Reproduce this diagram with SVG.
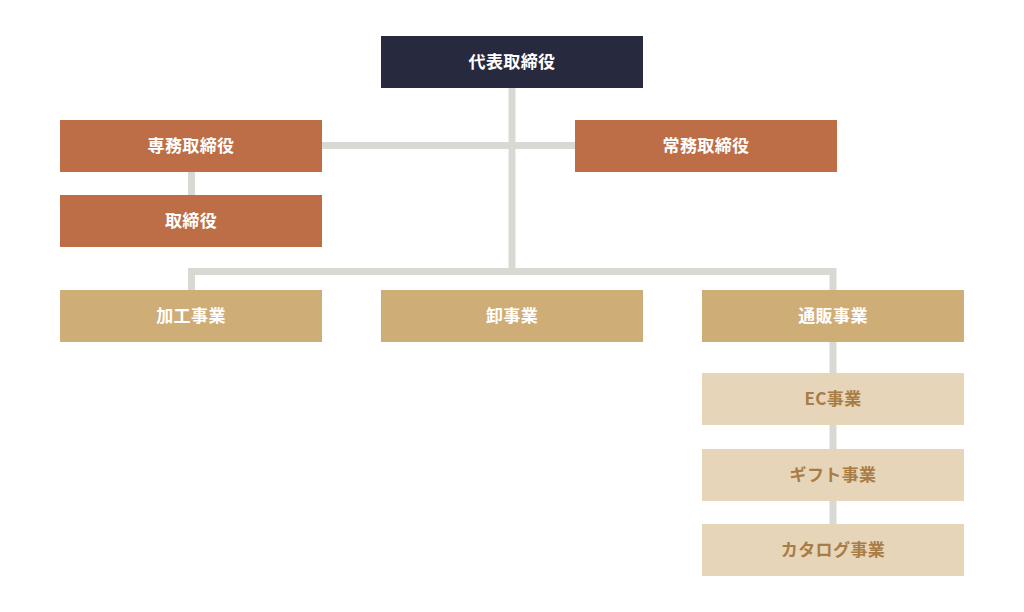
<svg xmlns="http://www.w3.org/2000/svg" width="1024" height="612" viewBox="0 0 1024 612">
<style>
.ln{stroke:#d9d9d3;stroke-width:7;fill:none}
text{font-family:"Noto Sans CJK JP","Noto Sans",sans-serif;font-size:17px;font-weight:700;text-anchor:middle;dominant-baseline:central;letter-spacing:0.4px}
.w{fill:#ffffff}
.b{fill:#a97c45}
.navy{fill:#272a3f}
.org{fill:#bd6e47}
.tan{fill:#cfad76}
.lt{fill:#e6d5b8}
</style>
<rect width="1024" height="612" fill="#ffffff"/>
<g id="connectors">
<path class="ln" d="M512 88V271"/>
<path class="ln" d="M322 145.5H575"/>
<path class="ln" d="M191.5 172V195"/>
<path class="ln" d="M191.5 290V271.5H833V290"/>
<path class="ln" d="M833 342V524"/>
</g>
<g id="ceo"><rect class="navy" x="381" y="36" width="262" height="52"/><text class="w" x="512" y="60">代表取締役</text></g>
<g id="senmu"><rect class="org" x="60" y="120" width="262" height="52"/><text class="w" x="191" y="144">専務取締役</text></g>
<g id="torishimari"><rect class="org" x="60" y="195" width="262" height="52"/><text class="w" x="191" y="219">取締役</text></g>
<g id="joumu"><rect class="org" x="575" y="120" width="262" height="52"/><text class="w" x="706" y="144">常務取締役</text></g>
<g id="kakou"><rect class="tan" x="60" y="290" width="262" height="52"/><text class="w" x="191" y="314">加工事業</text></g>
<g id="oroshi"><rect class="tan" x="381" y="290" width="262" height="52"/><text class="w" x="512" y="314">卸事業</text></g>
<g id="tsuhan"><rect class="tan" x="702" y="290" width="262" height="52"/><text class="w" x="833" y="314">通販事業</text></g>
<g id="ec"><rect class="lt" x="702" y="373" width="262" height="52"/><text class="b" x="833" y="397">EC事業</text></g>
<g id="gift"><rect class="lt" x="702" y="449" width="262" height="52"/><text class="b" x="833" y="473">ギフト事業</text></g>
<g id="catalog"><rect class="lt" x="702" y="524" width="262" height="52"/><text class="b" x="833" y="548">カタログ事業</text></g>
</svg>
